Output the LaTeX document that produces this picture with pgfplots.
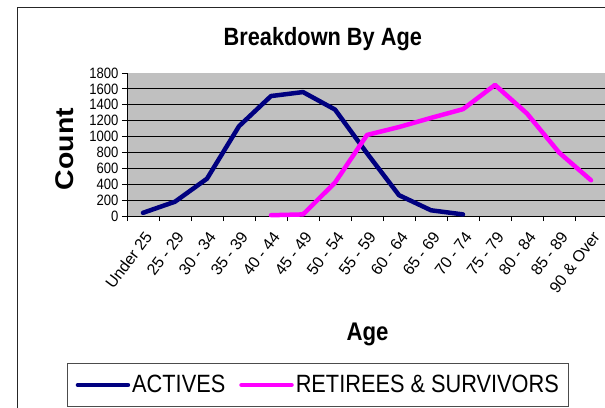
\documentclass[border=0pt]{standalone}
\usepackage{fontspec}
\setmainfont{Liberation Sans}[FakeStretch=0.87]
\newfontfamily\countfont{Liberation Sans}[FakeStretch=1.11]
\newfontfamily\tickfont{Liberation Sans}
\usepackage{pgfplots}
\pgfplotsset{compat=1.18}
\definecolor{plotgray}{RGB}{192,192,192}
\definecolor{activeblue}{RGB}{0,0,128}
\definecolor{retmag}{RGB}{255,0,255}
\begin{document}
\begin{tikzpicture}
\draw[black!85, line width=1pt] (17pt,-7pt) rectangle (700pt,-500pt);
\begin{axis}[
  at={(127pt,-216pt)}, anchor=south west,
  scale only axis, width=480pt, height=143pt,
  xmin=-0.5, xmax=14.5, ymin=0, ymax=1800,
  axis background/.style={fill=plotgray},
  axis x line*=bottom, axis y line*=left,
  axis line style={black, line width=0.8pt},
  tick align=outside,
  major tick length=5pt,
  tick style={black, line width=0.8pt},
  ytick={0,200,...,1800},
  extra y ticks={200,400,...,1600},
  extra y tick labels={},
  extra y tick style={grid=major, major tick length=0pt},
  major grid style={black, line width=0.8pt},
  xtick={-0.5,0.5,...,14.5},
  xticklabels={},
  extra x ticks={0,1,...,14},
  extra x tick labels={Under 25,25 - 29,30 - 34,35 - 39,40 - 44,45 - 49,50 - 54,55 - 59,60 - 64,65 - 69,70 - 74,75 - 79,80 - 84,85 - 89,90 \& Over},
  extra x tick style={major tick length=0pt},
  xticklabel style={yshift=-9.5pt, rotate=53, anchor=north east, font=\fontsize{16}{19}\tickfont},
  yticklabel style={font=\fontsize{15}{18}\selectfont},
  /pgf/number format/assume math mode=true,
  /pgf/number format/1000 sep={},
  clip=false,
  title={Breakdown By Age},
  title style={at={(axis description cs:0.408,1.193)}, anchor=base, yshift=-6pt, font=\fontsize{25}{30}\selectfont\bfseries},
  xlabel={Age},
  xlabel style={at={(axis description cs:0.501,-0.874)}, anchor=base, font=\fontsize{25.5}{30}\selectfont\bfseries},
  ylabel={Count},
  ylabel style={at={(axis description cs:-0.129,0.4685)}, anchor=center, font=\fontsize{25.6}{30}\countfont\bfseries},
  legend style={at={(axis description cs:0.3985,-1.1818)}, anchor=center, draw=black!70, line width=0.8pt,
    font=\fontsize{25}{28}\selectfont, inner xsep=8pt, inner ysep=10pt, nodes={inner sep=2pt}},
  legend columns=2,
  legend cell align=left,
  /tikz/every even column/.append style={column sep=12pt},
  legend image code/.code={\draw[#1, line cap=round] (0pt,0pt) -- (50pt,0pt);},
]
\addplot[activeblue, line width=4.5pt, line cap=round, line join=round] coordinates {
(0,40) (1,180) (2,470) (3,1130) (4,1510) (5,1560) (6,1340) (7,790) (8,262) (9,72) (10,20)
};
\addlegendentry{ACTIVES}
\addplot[retmag, line width=4.5pt, line cap=round, line join=round] coordinates {
(4,10) (5,20) (6,420) (7,1020) (8,1120) (9,1235) (10,1345) (11,1650) (12,1290) (13,800) (14,450)
};
\addlegendentry{RETIREES \& SURVIVORS}
\end{axis}
\pgfresetboundingbox
\useasboundingbox (0pt,0pt) rectangle (605pt,-407pt);
\end{tikzpicture}
\end{document}
